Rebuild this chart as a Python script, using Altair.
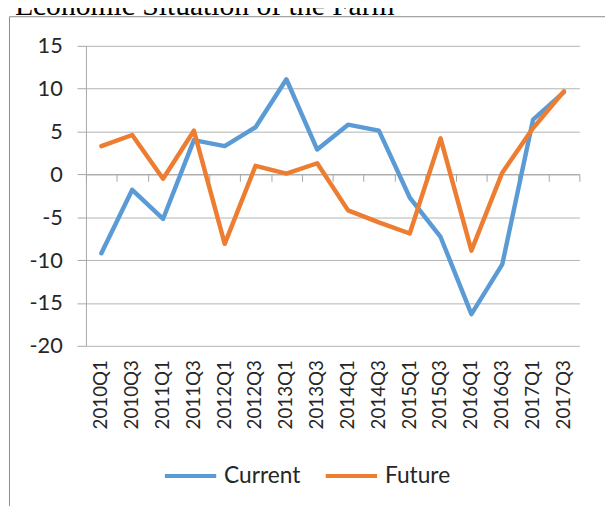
import altair as alt
import pandas as pd

# ---- data ----
quarters = ["2010Q1", "2010Q3", "2011Q1", "2011Q3", "2012Q1", "2012Q3", "2013Q1", "2013Q3",
            "2014Q1", "2014Q3", "2015Q1", "2015Q3", "2016Q1", "2016Q3", "2017Q1", "2017Q3"]
current = [-9.2, -1.8, -5.2, 4.0, 3.3, 5.5, 11.1, 2.9, 5.8, 5.1, -2.7, -7.3, -16.3, -10.5, 6.4, 9.6]
future = [3.3, 4.6, -0.5, 5.1, -8.1, 1.0, 0.1, 1.3, -4.2, -5.6, -6.9, 4.2, -8.9, 0.2, 5.4, 9.7]
series_names = ["Current", "Future"]
series_colors = ["#5b9bd5", "#ed7d31"]
y_ticks = [-20, -15, -10, -5, 0, 5, 10, 15]
title_text = "Economic Situation of the Farm"

df = pd.DataFrame({
    "quarter": quarters + quarters,
    "value": current + future,
    "series": [series_names[0]] * len(quarters) + [series_names[1]] * len(quarters),
})

FONT = "Lato"
TEXT = "#262626"
GRID = "#b3b3b3"
AXIS = "#a6a6a6"
FRAME = "#8a8a8a"

W, H = 500, 304
PAD = {"left": 79, "top": 35, "right": 26, "bottom": 159}

x_scale = alt.Scale(type="band", paddingInner=0, paddingOuter=0)
y_scale = alt.Scale(domain=[-20, 15], nice=False, zero=False)

lines = alt.Chart(df).mark_line(strokeWidth=4.5, strokeCap="round", strokeJoin="round").encode(
    x=alt.X("quarter:N", sort=quarters, scale=x_scale, bandPosition=0.5,
            axis=alt.Axis(title=None, orient="bottom", labelAngle=-90, ticks=False, tickSize=0,
                          domain=False, grid=False, labelPadding=14, labelFont=FONT,
                          labelFontSize=19, labelColor=TEXT)),
    y=alt.Y("value:Q", scale=y_scale,
            axis=alt.Axis(title=None, values=y_ticks, grid=True, gridColor=GRID, gridWidth=1,
                          tickSize=9, tickColor=AXIS, domainColor=AXIS, labelPadding=15,
                          labelExpr="datum.value < 0 ? '-' + abs(datum.value) : '' + datum.value",
                          labelFont=FONT, labelFontSize=22, labelColor=TEXT)),
    color=alt.Color("series:N", sort=series_names,
                    scale=alt.Scale(domain=series_names, range=series_colors),
                    legend=alt.Legend(title=None, orient="none", legendX=78, legendY=408,
                                      direction="horizontal", symbolType="stroke",
                                      symbolSize=2704, symbolStrokeWidth=4, labelFont=FONT,
                                      labelFontSize=23, labelColor=TEXT, labelOffset=6,
                                      columnPadding=17, padding=0)),
)

zero_axis = alt.Chart(df).mark_point(opacity=0).encode(
    x=alt.X("quarter:N", sort=quarters, scale=x_scale,
            axis=alt.Axis(title=None, orient="bottom", offset=-(H * 20 / 35), labels=False,
                          ticks=True, tickBand="extent", tickSize=7, tickColor=AXIS,
                          domain=True, domainColor=AXIS, grid=False)),
)

frame_df = pd.DataFrame({"k": [0]})
frame_top = alt.Chart(frame_df).mark_rule(color=FRAME, strokeWidth=1).encode(
    x=alt.value(-77.5), x2=alt.value(W + PAD["right"] + 5), y=alt.value(-29.5))
frame_left = alt.Chart(frame_df).mark_rule(color=FRAME, strokeWidth=1).encode(
    x=alt.value(-77.5), y=alt.value(-29.5), y2=alt.value(H + PAD["bottom"] + 5))

title_df = pd.DataFrame({"t": [title_text]})
title_mark = alt.Chart(title_df).mark_text(
    align="left", baseline="alphabetic", font="Liberation Serif", fontSize=30,
    color="#000000").encode(text="t:N", x=alt.value(-72), y=alt.value(-31.5))

chart = alt.layer(frame_top, frame_left, title_mark, zero_axis, lines).resolve_axis(
    x="independent"
).properties(
    width=W, height=H,
    autosize=alt.AutoSizeParams(type="none"),
    padding=PAD,
).configure_view(stroke=None)

chart.save("out.html", embed_options={"renderer": "svg", "actions": False})
